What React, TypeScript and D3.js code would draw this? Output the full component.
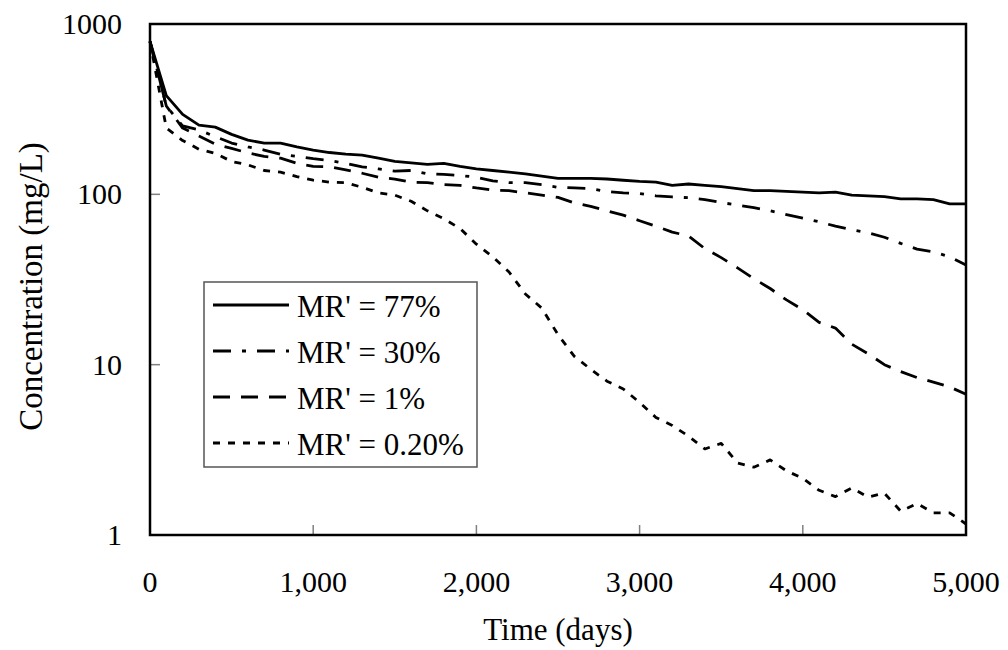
import React from "react";
import * as d3 from "d3";

const days = [0,100,200,300,400,500,600,700,800,900,1000,1100,1200,1300,1400,1500,1600,1700,1800,1900,2000,2100,2200,2300,2400,2500,2600,2700,2800,2900,3000,3100,3200,3300,3400,3500,3600,3700,3800,3900,4000,4100,4200,4300,4400,4500,4600,4700,4800,4900,5000];

const mr77 = [790,380,295,255,248,225,208,200,200,190,182,176,172,170,163,156,153,150,152,146,141,138,135,132,128,124,124,124,123,121,119,118,113,115,113,111,108,105,105,104,103,102,103,99,98,97,94,94,93,88,88];
const mr30 = [790,330,252,239,218,200,190,182,172,167,162,158,152,145,141,137,138,132,131,129,126,120,117,117,114,110,109,108,104,102,101,98,96.5,95.5,93,89.5,86.5,83.5,80,76,72.5,69,65,62,59.5,56,51.5,47.7,46,43,38.5];
const mr1 = [790,330,245,220,197,186,175,167,163,152,146,145,139,133,126,123,118,117,114,113,109,106,105,102,99,96,89,85,80,75.5,70,65,60,57,48,42.5,37,32,28,24,21,17.7,16.4,13.2,11.6,10,9.1,8.4,7.9,7.4,6.7];
const mr02 = [790,245,207,184,174,156,149,138,135,127,121,118,117,110,102,99,91,80,72,63,51,43,35,26,21.5,15,11.2,9.4,8.0,7.2,6.0,4.9,4.4,3.8,3.2,3.45,2.65,2.5,2.76,2.38,2.15,1.83,1.68,1.89,1.67,1.76,1.38,1.53,1.35,1.35,1.16];

const seriesNames = ["MR' = 77%", "MR' = 30%", "MR' = 1%", "MR' = 0.20%"];
const seriesData = [mr77, mr30, mr1, mr02];
const dashes = ["", "18,11,4,11", "17,11", "7,8"];

const xTicks = [0, 1000, 2000, 3000, 4000, 5000];
const yTicks = [1, 10, 100, 1000];

const FONT = "'Liberation Serif', 'Times New Roman', serif";

export default function App() {
  const left = 150, right = 966, top = 24, bottom = 535;
  const x = d3.scaleLinear().domain([0, 5000]).range([left, right]);
  const y = d3.scaleLog().domain([1, 1000]).range([bottom, top]);
  const line = d3.line<number>().x((_, i) => x(days[i])).y((d) => y(d));
  const fmt = d3.format(",");

  const legX = 204, legY = 282, legW = 273, legH = 185;
  const rowY = [305, 351, 397, 443];

  return (
    <svg width={1008} height={650} style={{ position: "absolute", left: 0, top: 0, background: "#fff" }}>
      <rect x={0} y={0} width={1008} height={650} fill="#fff" />
      {yTicks.filter((t) => t > 1 && t < 1000).map((t) => (
        <line key={"yt" + t} x1={left} x2={left + 10} y1={y(t)} y2={y(t)} stroke="#808080" strokeWidth={1.5} />
      ))}
      {xTicks.filter((t) => t > 0 && t < 5000).map((t) => (
        <line key={"xt" + t} x1={x(t)} x2={x(t)} y1={bottom} y2={bottom - 10} stroke="#808080" strokeWidth={1.5} />
      ))}
      {seriesData.map((s, i) => (
        <path key={"s" + i} d={line(s) || ""} fill="none" stroke="#000" strokeWidth={2.8}
          strokeDasharray={dashes[i] || undefined} strokeLinejoin="round" />
      ))}
      <rect x={left} y={top} width={right - left} height={bottom - top} fill="none" stroke="#000" strokeWidth={2.5} />
      {yTicks.map((t) => (
        <text key={"yl" + t} x={122} y={y(t) + 10} textAnchor="end" fontFamily={FONT} fontSize={30} fill="#000">{t}</text>
      ))}
      {xTicks.map((t) => (
        <text key={"xl" + t} x={x(t)} y={592} textAnchor="middle" fontFamily={FONT} fontSize={30} fill="#000">{fmt(t)}</text>
      ))}
      <text x={(left + right) / 2} y={640} textAnchor="middle" fontFamily={FONT} fontSize={31} fill="#000">Time (days)</text>
      <text transform={`translate(42,${(top + bottom) / 2 + 7}) rotate(-90)`} textAnchor="middle" fontFamily={FONT} fontSize={33} fill="#000">Concentration (mg/L)</text>
      <rect x={legX} y={legY} width={legW} height={legH} fill="#fff" stroke="#555" strokeWidth={1.5} />
      {seriesNames.map((n, i) => (
        <g key={"lg" + i}>
          <line x1={213} x2={289} y1={rowY[i]} y2={rowY[i]} stroke="#000" strokeWidth={2.8} strokeDasharray={dashes[i] || undefined} />
          <text x={297} y={rowY[i] + 12} fontFamily={FONT} fontSize={31} fill="#000">{n}</text>
        </g>
      ))}
    </svg>
  );
}
